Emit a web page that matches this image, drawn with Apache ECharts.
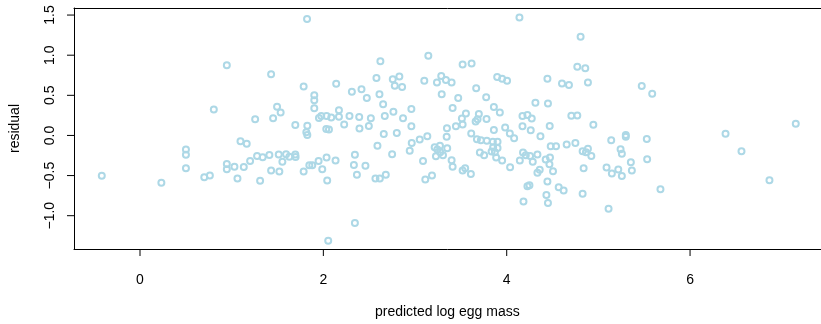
<!DOCTYPE html>
<html><head><meta charset="utf-8">
<script src="https://cdn.jsdelivr.net/npm/echarts@6/dist/echarts.min.js"></script>
<style>html,body{margin:0;padding:0;background:#fff}#c{width:821px;height:324px}</style>
</head><body><div id="c"></div>
<script>
// predicted log egg mass (x) and residual (y)
const predicted = [
-0.417,0.233,0.501,0.501,0.501,
1.822,0.947,1.430,1.785,2.140,1.901,1.901,1.901,0.805,1.495,1.534,1.256,1.452,1.694,1.825,1.814,1.825,1.952,1.977,2.035,2.086,2.170,2.170,2.032,2.061,
1.096,1.164,0.947,0.947,1.030,1.132,1.201,1.277,1.338,1.411,1.513,1.593,1.553,1.629,1.694,1.697,1.430,1.520,1.063,1.310,1.785,1.847,1.879,1.948,2.035,1.988,2.042,2.133,2.053,0.701,0.762,
2.622,3.145,3.519,3.617,2.579,2.757,2.829,2.779,2.859,3.101,3.239,3.286,3.337,3.399,2.311,2.416,2.474,2.612,2.652,3.291,3.471,
2.285,2.227,2.391,2.394,2.496,2.518,2.670,2.764,2.869,2.960,2.960,2.659,2.801,3.410,3.555,3.511,3.519,3.446,3.348,3.345,3.613,
2.590,2.750,2.964,2.942,3.051,3.134,3.214,3.272,3.243,3.275,3.228,3.305,3.351,3.087,3.399,3.410,3.519,3.547,3.609,3.112,3.185,
2.344,2.333,2.459,2.366,2.568,2.616,2.681,2.344,
4.139,4.806,4.770,4.857,3.896,3.950,4.004,4.444,4.603,4.679,4.886,3.667,3.776,4.313,4.450,3.860,3.925,3.696,3.682,3.661,3.780,
3.860,3.983,4.034,4.081,4.172,4.226,4.273,4.172,4.262,4.469,4.368,4.705,4.770,4.945,
3.675,3.718,3.783,3.849,3.900,3.852,3.900,3.835,3.871,3.707,3.754,3.885,3.950,4.037,4.480,4.538,4.654,4.749,4.828,4.864,4.886,4.923,
4.178,4.208,4.255,4.335,4.284,4.143,4.425,4.472,4.466,4.505,4.335,4.360,4.839,4.444,4.226,4.248,4.567,4.621,4.828,4.433,4.450,4.183,
5.473,5.587,7.153,6.387,6.561,6.866,5.140,5.299,5.299,5.528,5.242,5.256,5.354,5.532,5.089,5.147,5.217,5.256,5.365,5.677,5.111
];
const residual = [
-0.501,-0.589,-0.176,-0.240,-0.408,
1.451,0.876,0.764,0.611,0.643,0.502,0.439,0.339,0.322,0.358,0.286,0.201,0.213,0.129,0.122,0.041,0.005,0.218,0.242,0.242,0.225,0.314,0.234,0.081,0.073,
-0.071,-0.104,-0.357,-0.420,-0.389,-0.393,-0.320,-0.257,-0.272,-0.245,-0.236,-0.233,-0.329,-0.264,-0.236,-0.269,-0.437,-0.449,-0.537,-0.565,-0.449,-0.372,-0.372,-0.320,-0.276,-0.420,-0.561,-0.312,-1.312,-0.522,-0.498,
0.924,0.993,0.884,0.896,0.716,0.700,0.736,0.619,0.604,0.683,0.659,0.740,0.692,0.659,0.543,0.575,0.466,0.514,0.390,0.514,0.466,
0.242,0.137,0.230,0.086,0.117,0.213,0.242,0.294,0.213,0.330,0.113,0.017,0.029,0.342,0.273,0.210,0.137,0.113,0.089,-0.016,0.025,
-0.128,-0.233,-0.095,-0.192,-0.052,-0.011,-0.148,-0.128,-0.176,-0.208,-0.260,-0.248,-0.160,-0.320,-0.308,-0.389,-0.437,-0.408,-0.481,-0.549,-0.498,
-0.240,-0.369,-0.377,-0.489,-0.537,-0.537,-0.489,-1.092,
1.471,1.230,0.857,0.836,0.728,0.707,0.683,0.707,0.647,0.628,0.659,0.587,0.475,0.406,0.399,0.354,0.286,0.266,0.201,0.173,0.206,
0.069,0.098,0.025,-0.035,0.242,0.254,0.210,0.113,0.065,0.117,-0.011,0.246,0.249,0.134,
-0.047,-0.059,-0.067,-0.080,-0.080,-0.148,-0.155,-0.200,-0.208,-0.212,-0.248,-0.276,-0.312,-0.396,-0.136,-0.136,-0.112,-0.095,-0.196,-0.208,-0.167,-0.257,
-0.212,-0.248,-0.257,-0.236,-0.329,-0.312,-0.300,-0.276,-0.360,-0.445,-0.465,-0.429,-0.408,-0.573,-0.634,-0.622,-0.646,-0.686,-0.727,-0.742,-0.842,-0.823,
0.616,0.519,0.146,0.020,-0.196,-0.558,-0.059,0.005,-0.016,-0.043,-0.172,-0.228,-0.333,-0.296,-0.401,-0.473,-0.425,-0.505,-0.437,-0.670,-0.914
];
const xTicks = [0, 2, 4, 6];
const yTicks = [-1, -0.5, 0, 0.5, 1, 1.5];
const xTitle = 'predicted log egg mass';
const yTitle = 'residual';

const points = predicted.map((x, i) => [x, residual[i]]);
const font = "'Liberation Sans', Arial, Helvetica, sans-serif";
const fmtY = v => (v < 0 ? '\u2212' : '') + Math.abs(v).toFixed(1);
const X_MIN = -0.72, X_MAX = 7.425, Y_MIN = -1.415, Y_MAX = 1.588;
const TICK_LEN = 7;

// tick marks placed through the axes' own scales (api.coord)
function xTickItem(params, api) {
  const p = api.coord([api.value(0), Y_MIN]);
  return {type: 'line', shape: {x1: p[0], y1: p[1], x2: p[0], y2: p[1] + TICK_LEN},
          style: {stroke: '#000', lineWidth: 1}};
}
function yTickItem(params, api) {
  const p = api.coord([X_MIN, api.value(1)]);
  return {type: 'line', shape: {x1: p[0] - TICK_LEN, y1: p[1], x2: p[0], y2: p[1]},
          style: {stroke: '#000', lineWidth: 1}};
}

const chart = echarts.init(document.getElementById('c'));
chart.setOption({
  animation: false,
  tooltip: {show: false},
  grid: {left: 72.7, top: 8, width: 748, height: 248.7, show: false},
  xAxis: [{
    type: 'value', min: X_MIN, max: X_MAX, position: 'bottom',
    axisLine: {show: true, onZero: false, lineStyle: {color: '#000', width: 1}},
    splitLine: {show: false},
    axisTick: {show: false},
    axisLabel: {customValues: xTicks, margin: 24, color: '#000', fontSize: 14, fontFamily: font,
                formatter: v => String(v)},
    name: xTitle, nameLocation: 'middle', nameGap: 56,
    nameTextStyle: {color: '#000', fontSize: 14, fontFamily: font}
  }, {
    type: 'value', min: X_MIN, max: X_MAX, position: 'top',
    axisLine: {show: true, onZero: false, lineStyle: {color: '#000', width: 1}},
    axisTick: {show: false}, axisLabel: {show: false}, splitLine: {show: false}
  }],
  yAxis: {
    type: 'value', min: Y_MIN, max: Y_MAX, position: 'left',
    axisLine: {show: true, onZero: false, lineStyle: {color: '#000', width: 1}},
    splitLine: {show: false},
    axisTick: {show: false},
    axisLabel: {customValues: yTicks, rotate: 90, margin: 17, color: '#000', fontSize: 14,
                fontFamily: font, formatter: fmtY},
    name: yTitle, nameLocation: 'middle', nameGap: 52, nameRotate: 90,
    nameTextStyle: {color: '#000', fontSize: 14, fontFamily: font}
  },
  series: [{
    type: 'scatter', data: points, xAxisIndex: 0, yAxisIndex: 0,
    symbol: 'circle', symbolSize: 6,
    itemStyle: {color: 'rgba(0,0,0,0)', borderColor: '#ADD8E6', borderWidth: 2, opacity: 1},
    emphasis: {disabled: true}
  }, {
    type: 'custom', xAxisIndex: 0, yAxisIndex: 0, clip: false, silent: true, z: 5,
    data: xTicks.map(v => [v, Y_MIN]), renderItem: xTickItem
  }, {
    type: 'custom', xAxisIndex: 0, yAxisIndex: 0, clip: false, silent: true, z: 5,
    data: yTicks.map(v => [X_MIN, v]), renderItem: yTickItem
  }]
});
</script>
</body></html>
